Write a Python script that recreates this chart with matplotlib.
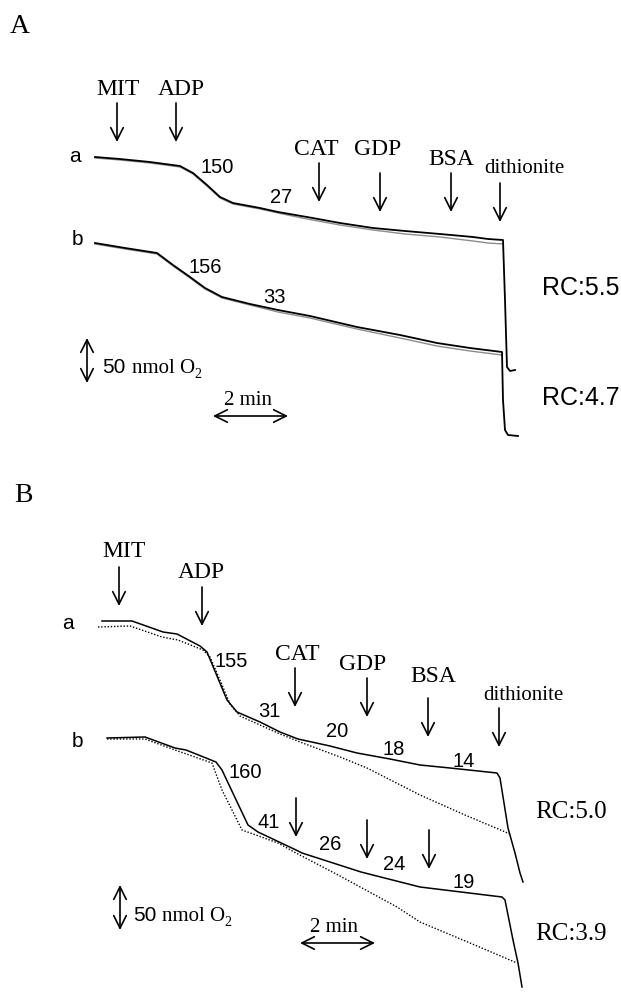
import matplotlib
matplotlib.use("Agg")
import matplotlib.pyplot as plt

SERIF = ["Liberation Serif", "DejaVu Serif"]
SANS = ["Liberation Sans", "DejaVu Sans"]

# ---------------- Panel A traces (chart units: x = time position, y = O2 level, drawn downward) ----
A_a_x = [95, 120, 150, 180, 193, 207, 220, 233, 260, 278, 307, 340, 373, 405, 440, 473, 488, 503, 505, 507, 510, 515]
A_a_y = [157, 159, 162, 166, 173, 185, 197, 203, 208, 212, 217, 223, 228, 231, 234, 237, 239, 240, 300, 367, 371, 370]
A_a2_x = [95, 120, 150, 180, 193, 207, 220, 233, 260, 278, 307, 340, 373, 405, 440, 473, 488, 503]
A_a2_y = [158, 160, 163, 167, 174, 186, 198, 204, 209, 213, 219, 225, 230, 234, 237, 241, 243, 244]

A_b_x = [95, 125, 157, 173, 190, 205, 222, 250, 278, 310, 357, 400, 437, 470, 502, 503, 505, 508, 518]
A_b_y = [243, 248, 253, 265, 277, 288, 297, 304, 310, 316, 327, 335, 343, 348, 352, 400, 430, 435, 436]
A_b2_x = [95, 125, 157, 173, 190, 205, 222, 250, 278, 310, 357, 400, 437, 470, 502]
A_b2_y = [244, 249, 254, 266, 278, 289, 298, 305, 312, 318, 329, 338, 346, 351, 355]

# ---------------- Panel B traces ----------------
B_a_x = [102, 132, 163, 177, 200, 207, 217, 227, 237, 260, 280, 298, 330, 357, 390, 420, 450, 497, 500, 508, 515, 520, 523]
B_a_y = [621, 621, 632, 634, 646, 652, 676, 700, 712, 722, 732, 739, 746, 753, 759, 765, 768, 773, 778, 828, 853, 873, 882]
B_a_dot_x = [98, 130, 162, 178, 203, 210, 220, 230, 240, 280, 300, 340, 367, 420, 465, 510]
B_a_dot_y = [627, 626, 637, 640, 650, 657, 680, 704, 716, 734, 742, 757, 768, 795, 815, 834]

B_b_x = [107, 145, 175, 186, 216, 222, 230, 248, 258, 296, 302, 361, 420, 502, 505, 513, 518, 522]
B_b_y = [738, 737, 748, 750, 762, 770, 787, 825, 832, 850, 853, 872, 887, 897, 900, 940, 963, 987]
B_b_dot_x = [107, 145, 175, 212, 222, 242, 278, 296, 340, 397, 420, 470, 517]
B_b_dot_y = [739, 739, 750, 763, 790, 830, 843, 853, 876, 907, 922, 943, 963]

# ---------------- Annotations ----------------
A_agents = ["MIT", "ADP", "CAT", "GDP", "BSA"]
A_agent_x = [118, 181.5, 316.5, 377.5, 451.5]
A_agent_y = [95, 95, 155, 155, 165]
A_arrow_x = [117, 176, 319, 380, 451, 500]
A_arrow_top = [103, 103, 163, 173, 173, 183]
A_arrow_len = 39
A_rates = ["150", "27", "156", "33"]
A_rate_x = [200, 270, 188, 263]
A_rate_y = [173, 203, 273, 303]
A_rc = ["RC:5.5", "RC:4.7"]
A_rc_y = [295, 405]

B_agents = ["MIT", "ADP", "CAT", "GDP", "BSA"]
B_agent_x = [124, 201.5, 297, 362.5, 433.5]
B_agent_y = [557, 578, 660, 670, 682]
B_arrow_x = [119, 202, 295, 367, 428, 499, 296, 367, 429]
B_arrow_top = [567, 587, 668, 678, 698, 708, 798, 820, 830]
B_arrow_len = 39
B_rates = ["155", "31", "20", "18", "14", "160", "41", "26", "24", "19"]
B_rate_x = [215, 258, 326, 382, 452, 228, 258, 319, 383, 453]
B_rate_y = [667, 717, 737, 755, 767, 778, 828, 850, 870, 888]
B_rc = ["RC:5.0", "RC:3.9"]
B_rc_y = [818, 940]

fig = plt.figure(figsize=(6.21, 9.92), dpi=100)
ax = fig.add_axes([0, 0, 1, 1])
ax.set_xlim(0, 621)
ax.set_ylim(992, 0)
ax.axis("off")

def arrow(x0, y0, x1, y1, style="->"):
    ax.annotate("", xy=(x1, y1), xytext=(x0, y0),
                arrowprops=dict(arrowstyle=style + ",head_length=0.9,head_width=0.45",
                                lw=1.2, color="black", shrinkA=0, shrinkB=0,
                                mutation_scale=10))

# Panel A
ax.plot(A_a2_x, A_a2_y, color="#8c8c8c", lw=1.0)
ax.plot(A_a_x, A_a_y, color="black", lw=1.3)
ax.plot(A_b2_x, A_b2_y, color="#8c8c8c", lw=1.0)
ax.plot(A_b_x, A_b_y, color="black", lw=1.3)

ax.text(10, 33, "A", fontsize=20, family=SERIF, va="baseline", ha="left")
for t, x, y in zip(A_agents, A_agent_x, A_agent_y):
    ax.text(x, y, t, fontsize=17, family=SERIF, ha="center", va="baseline")
ax.text(524, 173, "dithionite", fontsize=15, family=SERIF, ha="center", va="baseline")
for x, y in zip(A_arrow_x, A_arrow_top):
    arrow(x, y, x, y + A_arrow_len)
ax.text(69, 162, "a", fontsize=15, family=SANS, va="baseline")
ax.text(72, 245, "b", fontsize=15, family=SANS, va="baseline")
for t, x, y in zip(A_rates, A_rate_x, A_rate_y):
    ax.text(x, y, t, fontsize=14.5, family=SANS, va="baseline")
for t, y in zip(A_rc, A_rc_y):
    ax.text(542, y, t, fontsize=18, family=SANS, va="baseline")
arrow(87, 338, 87, 383, "<->")
ax.text(102, 373, "50", fontsize=15, family=SANS, va="baseline")
ax.text(132, 373, "nmol O", fontsize=15, family=SERIF, va="baseline")
ax.text(194, 378, "2", fontsize=10, family=SERIF, va="baseline")
ax.text(247.5, 405, "2 min", fontsize=15, family=SERIF, ha="center", va="baseline")
arrow(213, 416, 288, 416, "<->")

# Panel B
ax.plot(B_a_dot_x, B_a_dot_y, color="black", lw=1.0, linestyle=(0, (1, 1.3)))
ax.plot(B_a_x, B_a_y, color="black", lw=1.1)
ax.plot(B_b_dot_x, B_b_dot_y, color="black", lw=1.0, linestyle=(0, (1, 1.3)))
ax.plot(B_b_x, B_b_y, color="black", lw=1.1)

ax.text(14, 502, "B", fontsize=20, family=SERIF, va="baseline", ha="left")
for t, x, y in zip(B_agents, B_agent_x, B_agent_y):
    ax.text(x, y, t, fontsize=17, family=SERIF, ha="center", va="baseline")
ax.text(523.5, 700, "dithionite", fontsize=15, family=SERIF, ha="center", va="baseline")
for x, y in zip(B_arrow_x, B_arrow_top):
    arrow(x, y, x, y + B_arrow_len)
ax.text(62, 629, "a", fontsize=15, family=SANS, va="baseline")
ax.text(72, 747, "b", fontsize=15, family=SANS, va="baseline")
for t, x, y in zip(B_rates, B_rate_x, B_rate_y):
    ax.text(x, y, t, fontsize=14.5, family=SANS, va="baseline")
for t, y in zip(B_rc, B_rc_y):
    ax.text(535, y, t, fontsize=18, family=SERIF, va="baseline")
arrow(120, 885, 120, 930, "<->")
ax.text(133, 921, "50", fontsize=15, family=SANS, va="baseline")
ax.text(162, 921, "nmol O", fontsize=15, family=SERIF, va="baseline")
ax.text(224, 926, "2", fontsize=10, family=SERIF, va="baseline")
ax.text(334.5, 932, "2 min", fontsize=15, family=SERIF, ha="center", va="baseline")
arrow(300, 943, 375, 943, "<->")

fig.savefig("out.png", dpi=100, facecolor="white")
